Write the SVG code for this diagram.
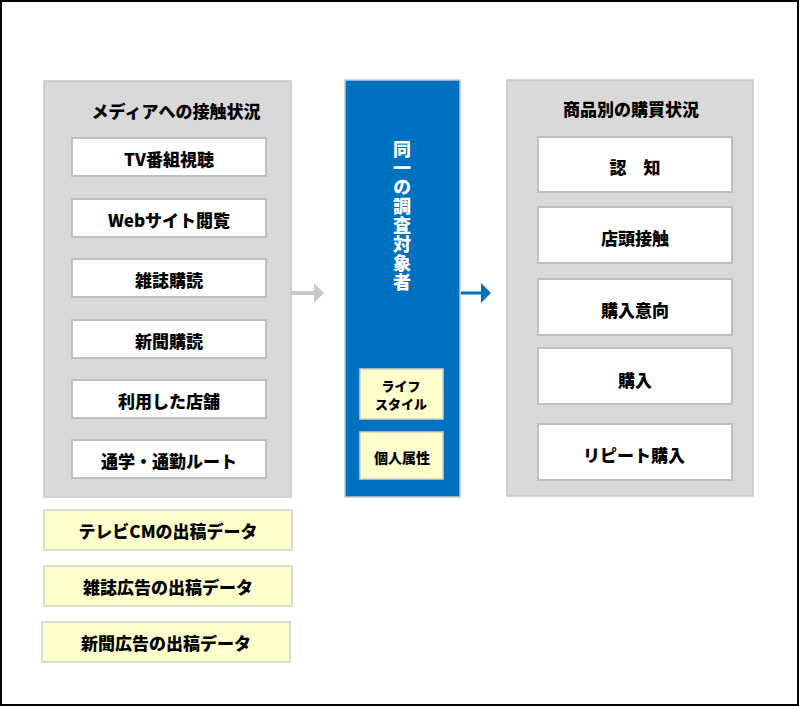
<svg xmlns="http://www.w3.org/2000/svg" width="800" height="706" viewBox="0 0 800 706">
<style>
text{font-family:"Noto Sans CJK JP","Liberation Sans",sans-serif;font-weight:900;font-size:17px;fill:#000;text-anchor:middle;dominant-baseline:central}
.panel{fill:#d9d9d9;stroke:#c8c8c8;stroke-width:1.5}
.box{fill:#fff;stroke:#bfbfbf;stroke-width:2}
.ybox{fill:#ffffcc;stroke:#d0d0c0;stroke-width:1.5}
</style>
<rect x="1" y="1" width="797" height="704" fill="#fff" stroke="#000" stroke-width="2"/>
<g id="media">
<rect class="panel" x="44" y="81" width="247" height="416"/>
<text x="176" y="110">メディアへの接触状況</text>
<rect class="box" x="72" y="138" width="194" height="38"/><text x="169" y="158">TV番組視聴</text>
<rect class="box" x="72" y="199" width="194" height="38"/><text x="169" y="219">Webサイト閲覧</text>
<rect class="box" x="72" y="259" width="194" height="38"/><text x="169" y="279">雑誌購読</text>
<rect class="box" x="72" y="320" width="194" height="38"/><text x="169" y="340">新聞購読</text>
<rect class="box" x="72" y="380" width="194" height="38"/><text x="169" y="400">利用した店舗</text>
<rect class="box" x="72" y="440" width="194" height="38"/><text x="169" y="460">通学・通勤ルート</text>
</g>
<g id="ads">
<rect class="ybox" x="44" y="510" width="248" height="40"/><text x="168" y="530">テレビCMの出稿データ</text>
<rect class="ybox" x="44" y="566" width="248" height="40"/><text x="168" y="586">雑誌広告の出稿データ</text>
<rect class="ybox" x="42" y="622" width="248" height="40"/><text x="166" y="642">新聞広告の出稿データ</text>
</g>
<g id="subject">
<rect x="345" y="80" width="115" height="417" fill="#0070c0" stroke="#c8c8c8" stroke-width="1.5"/>
<text x="402" y="140" writing-mode="vertical-rl" style="fill:#fff;font-size:18px;text-anchor:start;letter-spacing:1px">同一の調査対象者</text>
<rect class="ybox" x="360" y="369" width="83" height="50"/>
<text x="401" y="385" style="font-size:13px">ライフ</text>
<text x="401" y="403" style="font-size:13px">スタイル</text>
<rect class="ybox" x="360" y="432" width="83" height="47"/>
<text x="402" y="457" style="font-size:14px">個人属性</text>
</g>
<g id="purchase">
<rect class="panel" x="507" y="80" width="246" height="416"/>
<text x="631" y="108">商品別の購買状況</text>
<rect class="box" x="538" y="137" width="194" height="55"/><text x="635" y="166">認　知</text>
<rect class="box" x="538" y="207" width="194" height="56"/><text x="635" y="237">店頭接触</text>
<rect class="box" x="538" y="279" width="194" height="56"/><text x="635" y="309">購入意向</text>
<rect class="box" x="538" y="348" width="194" height="56"/><text x="635" y="379">購入</text>
<rect class="box" x="538" y="424" width="194" height="56"/><text x="634" y="454">リピート購入</text>
</g>
<g id="connectors">
<line x1="291" y1="293" x2="315" y2="293" stroke="#c8c8c8" stroke-width="4"/>
<path d="M314,283L324,293L314,303z" fill="#c8c8c8"/>
<line x1="461" y1="293" x2="482" y2="293" stroke="#0070c0" stroke-width="3"/>
<path d="M481,283L491,293L481,303z" fill="#0070c0"/>
</g>
</svg>
